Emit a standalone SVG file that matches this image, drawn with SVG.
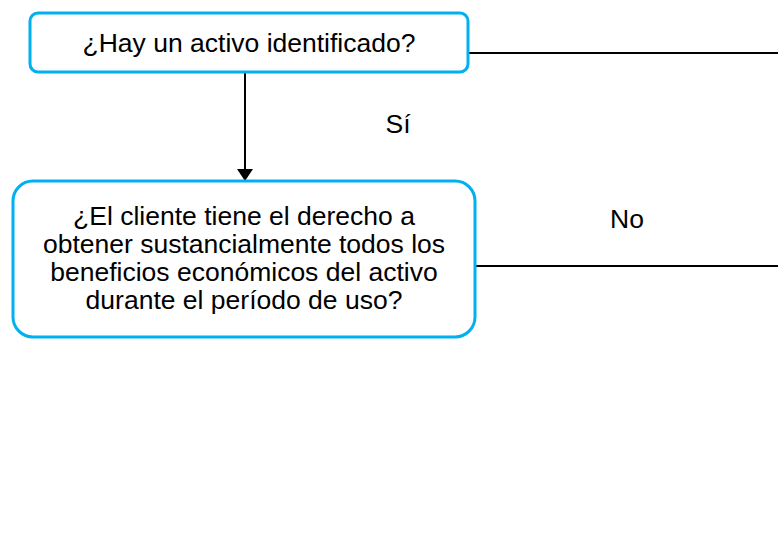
<svg xmlns="http://www.w3.org/2000/svg" width="778" height="548" viewBox="0 0 778 548">
<style>
.box{fill:#fff;stroke:#00B0F0;stroke-width:3}
.t{font-family:"Liberation Sans",Arial,sans-serif;font-size:26.5px;fill:#000;text-anchor:middle}
.c{stroke:#000;stroke-width:2;fill:none}
</style>
<defs>
<marker id="ah" markerWidth="12" markerHeight="16" refX="11" refY="8" orient="auto" markerUnits="userSpaceOnUse">
<path d="M0,0 L12,8 L0,16 Z" fill="#000"/>
</marker>
</defs>
<rect width="778" height="548" fill="#fff"/>
<g id="connectors">
<line class="c" x1="245" y1="73" x2="245" y2="180" marker-end="url(#ah)"/>
<line class="c" x1="468" y1="53" x2="778" y2="53"/>
<line class="c" x1="475" y1="266" x2="778" y2="266"/>
<text class="t" x="398" y="133">Sí</text>
<text class="t" x="627" y="228">No</text>
</g>
<g id="node1">
<rect class="box" x="30" y="13" width="438" height="59" rx="8"/>
<text class="t" x="249" y="52">¿Hay un activo identificado?</text>
</g>
<g id="node2">
<rect class="box" x="13" y="181" width="462" height="156" rx="20"/>
<text class="t" x="244" y="225">¿El cliente tiene el derecho a</text>
<text class="t" x="244" y="253">obtener sustancialmente todos los</text>
<text class="t" x="244" y="281">beneficios económicos del activo</text>
<text class="t" x="244" y="309">durante el período de uso?</text>
</g>
</svg>
